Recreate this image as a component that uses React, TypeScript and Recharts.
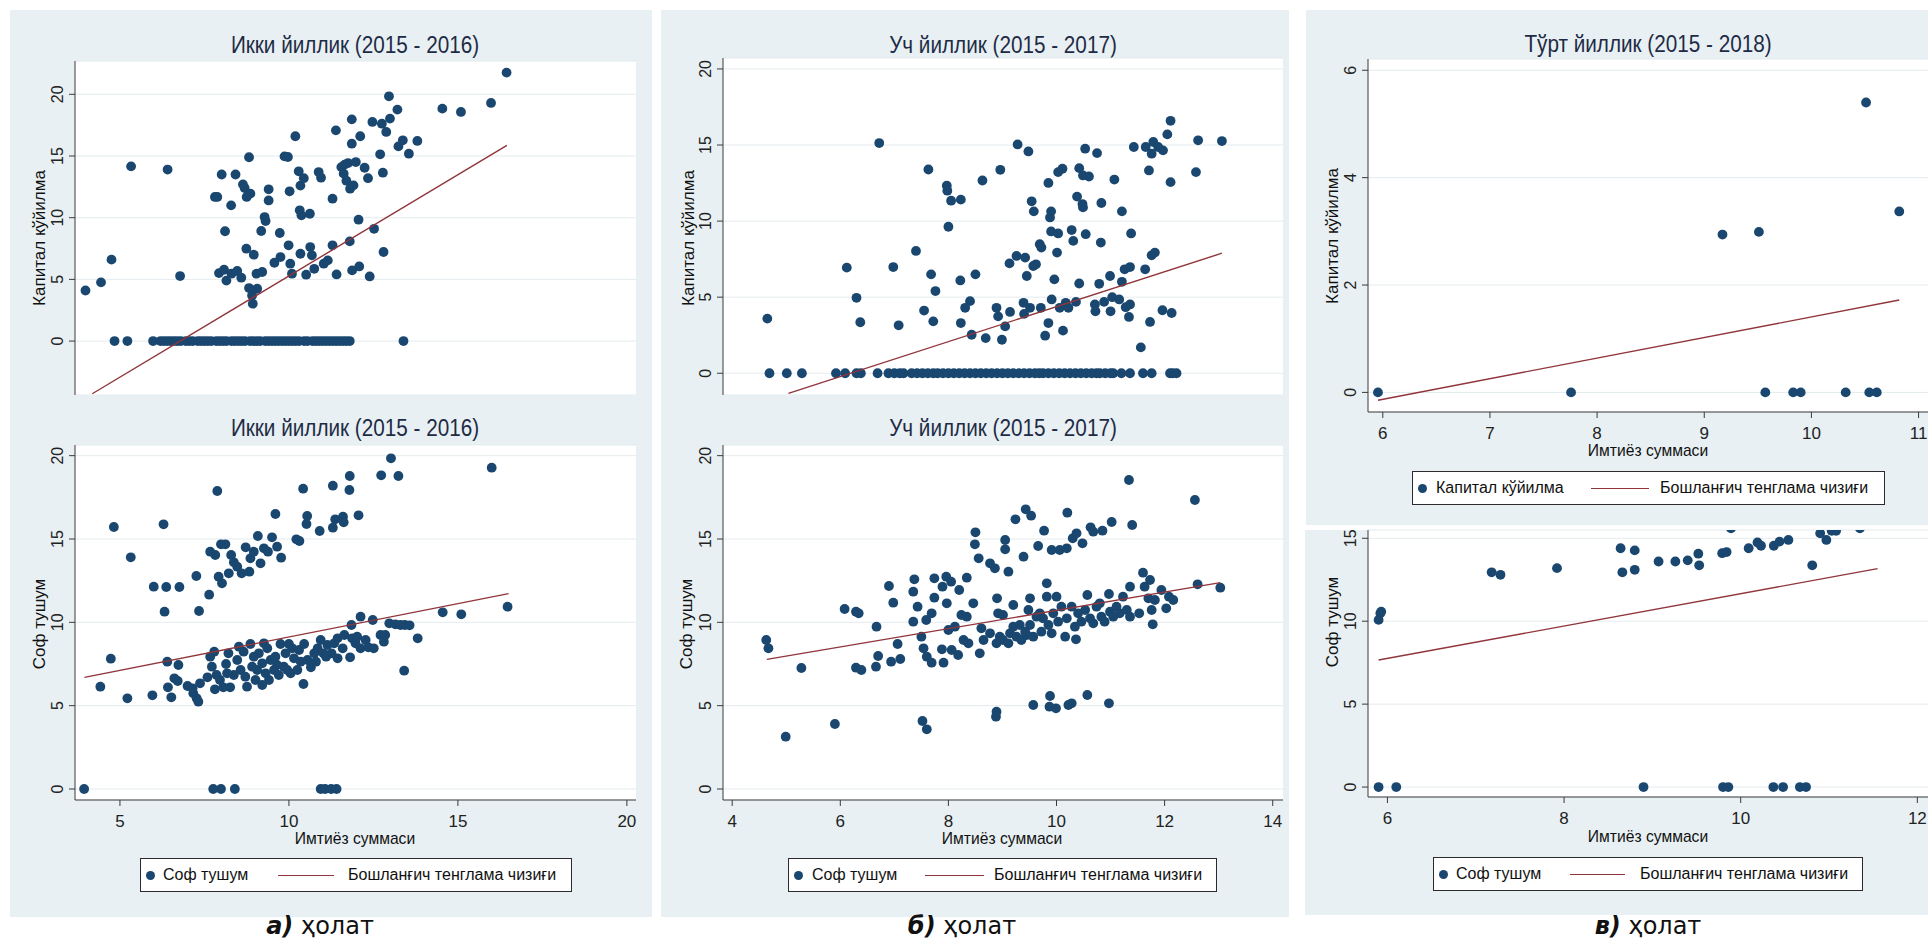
import React from "react";
import { ScatterChart, Scatter, XAxis, YAxis, CartesianGrid } from "recharts";

// colours taken from the Stata s2color look of the reference
const NAVY = "#1a476f";
const MAROON = "#90353b";
const PANEL_BG = "#e8f0f3";
const GRID = "#e4ebee";
const AXIS = "#3a3a3a";
const FONT = "'Liberation Sans', Arial, sans-serif";

type Pt = [number, number];

// ---------- а) two-year panels ----------
const twoYearCapital: Pt[] = [
  [3.98, 4.1], [4.44, 4.76], [4.75, 6.6], [5.33, 14.16], [6.41, 13.9], [6.78, 5.27],
  [7.81, 11.68], [7.88, 11.68], [8.01, 13.5], [8.42, 13.5], [8.29, 11.0], [8.64, 12.7],
  [8.69, 12.4], [8.82, 14.9], [8.86, 11.95], [8.75, 11.68], [8.11, 8.9], [7.93, 5.51],
  [8.08, 5.78], [8.15, 4.9], [8.3, 5.46], [8.47, 5.68], [8.59, 5.14], [8.74, 7.49],
  [8.96, 7.0], [8.82, 4.3], [9.06, 4.24], [8.91, 3.7], [8.93, 3.03], [9.04, 5.46],
  [9.21, 5.6], [9.18, 8.92], [9.28, 10.05], [9.31, 9.73], [9.4, 12.3], [9.4, 11.4],
  [9.57, 6.35], [9.75, 6.81], [9.73, 8.76], [9.87, 14.97], [9.97, 14.92], [10.02, 12.14],
  [9.99, 7.76], [10.04, 6.27], [10.09, 5.46], [10.19, 16.6], [10.29, 13.76], [10.32, 10.6],
  [10.37, 10.19], [10.34, 12.6], [10.44, 13.2], [10.34, 7.08], [10.51, 5.38], [10.62, 10.32],
  [10.63, 7.62], [10.68, 6.95], [10.75, 5.86], [10.88, 13.7], [10.95, 13.24], [11.03, 6.27],
  [11.15, 6.54], [11.29, 11.54], [11.29, 7.76], [11.39, 17.08], [11.41, 5.4], [11.55, 14.1],
  [11.62, 13.57], [11.75, 14.43], [11.7, 13.0], [11.65, 14.3], [11.81, 12.35], [11.86, 16.0],
  [11.86, 17.97], [11.91, 12.62], [11.98, 14.51], [12.06, 9.84], [11.8, 8.08], [11.87, 5.73],
  [12.08, 6.05], [12.11, 16.6], [12.24, 14.05], [12.34, 13.2], [12.39, 5.24], [12.47, 17.76],
  [12.52, 9.1], [12.75, 17.62], [12.8, 7.22], [12.78, 13.65], [12.7, 15.14], [12.88, 16.95],
  [12.96, 19.84], [12.99, 18.03], [13.21, 18.76], [13.24, 15.78], [13.37, 16.27], [13.55, 15.19],
  [13.8, 16.22], [14.54, 18.84], [15.09, 18.57], [15.98, 19.3], [16.44, 21.76],
];
const twoYearCapitalZeroX = [
  4.84, 5.22, 5.98, 6.2, 6.3, 6.4, 6.5, 6.6, 6.7, 6.8, 6.95, 7.05, 7.15, 7.3, 7.4, 7.5, 7.6,
  7.7, 7.85, 7.95, 8.05, 8.15, 8.3, 8.4, 8.5, 8.6, 8.7, 8.85, 8.95, 9.05, 9.15, 9.3, 9.4, 9.5,
  9.6, 9.7, 9.8, 9.9, 10.0, 10.1, 10.2, 10.3, 10.45, 10.55, 10.7, 10.8, 10.9, 11.0, 11.1, 11.2,
  11.3, 11.4, 11.5, 11.6, 11.7, 11.8, 13.39,
];
const twoYearCapitalFit: Pt[] = [[4.18, -4.27], [16.45, 15.86]];

const twoYearRevenue: Pt[] = [
  [4.82, 15.72], [5.32, 13.9], [6.29, 15.88], [6.0, 12.14], [6.37, 12.12], [6.32, 10.64],
  [6.76, 12.12], [7.26, 12.78], [7.34, 10.68], [7.64, 11.66], [7.88, 17.88], [7.67, 14.24],
  [7.82, 14.04], [7.92, 12.74], [8.02, 12.34], [7.99, 14.68], [8.12, 14.68], [8.22, 12.94],
  [8.29, 14.04], [8.37, 13.6], [8.47, 13.34], [8.6, 12.94], [8.72, 14.5], [8.83, 13.04],
  [8.86, 13.84], [8.96, 14.24], [9.08, 15.18], [9.16, 13.54], [9.26, 14.44], [9.38, 14.24],
  [9.5, 15.1], [9.6, 16.5], [9.65, 14.54], [9.77, 13.88], [10.22, 14.98], [10.31, 14.88],
  [10.42, 18.02], [10.54, 16.38], [10.52, 15.9], [10.91, 15.48], [11.3, 18.2], [11.3, 15.68],
  [11.37, 16.18], [11.6, 16.34], [11.62, 16.0], [11.8, 18.78], [11.79, 17.94], [12.06, 16.42],
  [12.73, 18.82], [13.02, 19.84], [13.24, 18.78], [16.0, 19.28],
  [4.42, 6.14], [4.73, 7.82], [5.22, 5.44], [5.96, 5.62], [6.42, 6.1], [6.52, 5.5],
  [6.4, 7.64], [6.73, 7.44], [6.61, 6.64], [6.71, 6.48], [7.0, 6.18], [7.17, 5.74],
  [7.27, 5.44], [7.32, 5.24], [7.15, 6.04], [7.37, 6.34], [7.59, 6.7], [7.67, 7.94],
  [7.79, 8.24], [7.72, 7.34], [7.86, 6.84], [7.81, 5.98], [7.96, 6.54], [8.06, 6.1],
  [8.14, 7.5], [8.21, 8.14], [8.26, 6.1], [8.37, 6.84], [8.47, 7.74], [8.57, 7.14],
  [8.66, 8.24], [8.71, 6.74], [8.76, 6.14], [8.86, 8.7], [8.91, 7.34], [8.96, 7.94],
  [9.01, 6.54], [9.06, 7.14], [9.11, 8.14], [9.21, 7.54], [9.31, 6.94], [9.36, 8.44],
  [9.41, 6.54], [9.46, 7.74], [9.56, 7.14], [9.6, 7.94], [9.7, 6.84], [9.75, 8.7],
  [9.85, 7.34], [9.9, 8.14], [10.0, 8.7], [10.05, 6.94], [10.15, 7.84], [10.25, 7.14],
  [10.3, 8.34], [10.43, 6.3], [10.45, 8.7], [10.55, 7.74], [10.65, 7.3], [10.75, 8.14],
  [10.85, 8.44], [10.94, 8.94], [11.02, 8.14], [11.14, 8.64], [11.26, 8.14], [11.34, 8.74],
  [11.44, 7.84], [11.44, 9.04], [11.59, 8.44], [11.64, 9.24], [11.81, 7.9], [11.85, 9.84],
  [11.87, 9.04], [11.97, 8.74], [12.02, 9.14], [12.12, 10.34], [12.12, 8.44], [12.27, 8.94],
  [12.35, 8.5], [12.48, 10.14], [12.51, 8.44], [12.71, 9.24], [12.81, 8.84], [12.85, 9.24],
  [12.97, 9.94], [13.15, 9.88], [13.3, 9.84], [13.43, 9.84], [13.57, 9.82], [13.81, 9.04],
  [13.41, 7.1], [14.55, 10.6], [15.1, 10.48], [16.47, 10.94],
  [8.52, 8.54], [9.26, 8.74], [9.65, 7.44], [9.95, 7.14], [10.35, 7.64], [10.8, 7.64],
  [11.1, 7.94], [9.21, 6.24], [8.17, 6.94], [10.1, 8.44],
];
const twoYearRevenueZeroX = [3.94, 7.76, 7.99, 8.4, 10.94, 11.07, 11.25, 11.41];
const twoYearRevenueFit: Pt[] = [[3.95, 6.7], [16.5, 11.72]];

// ---------- б) three-year panels ----------
const threeYearCapital: Pt[] = [
  [4.65, 3.59], [6.12, 6.94], [6.3, 4.96], [6.37, 3.35], [6.72, 15.13], [6.98, 6.98],
  [7.08, 3.15], [7.4, 8.04], [7.55, 4.12], [7.63, 13.39], [7.68, 6.5], [7.76, 5.4],
  [7.72, 3.41], [7.97, 12.33], [7.98, 12.0], [8.05, 11.34], [8.23, 11.41], [8.0, 9.63],
  [8.22, 6.1], [8.23, 3.3], [8.31, 4.3], [8.4, 4.74], [8.43, 2.53], [8.5, 6.5],
  [8.63, 12.67], [8.69, 2.31], [8.89, 4.3], [8.92, 3.74], [8.96, 13.37], [8.99, 2.2],
  [9.05, 3.08], [9.13, 7.22], [9.14, 4.03], [9.26, 7.71], [9.42, 7.6], [9.28, 15.04],
  [9.39, 4.63], [9.4, 3.9], [9.45, 6.39], [9.48, 14.58], [9.51, 4.3], [9.54, 11.3],
  [9.57, 7.05], [9.58, 10.64], [9.62, 7.16], [9.69, 8.48], [9.72, 8.26], [9.71, 4.3],
  [9.79, 2.47], [9.85, 12.51], [9.85, 3.3], [9.88, 10.24], [9.9, 10.64], [9.9, 9.32],
  [9.91, 4.85], [9.96, 6.17], [10.01, 7.93], [10.03, 9.19], [10.03, 13.22], [10.11, 13.44],
  [10.06, 4.3], [10.12, 2.8], [10.17, 4.63], [10.22, 4.3], [10.28, 9.41], [10.31, 8.7],
  [10.36, 4.69], [10.38, 11.61], [10.42, 13.48], [10.42, 5.9], [10.48, 11.12], [10.49, 10.9],
  [10.49, 13.0], [10.53, 14.76], [10.54, 9.14], [10.6, 12.93], [10.71, 4.52], [10.72, 4.07],
  [10.75, 14.47], [10.79, 5.88], [10.82, 8.59], [10.83, 11.19], [10.88, 4.69], [10.99, 6.39],
  [11.0, 4.07], [11.03, 5.0], [11.07, 12.73], [11.16, 4.85], [11.21, 10.64], [11.21, 6.01],
  [11.26, 6.83], [11.28, 4.34], [11.34, 3.7], [11.36, 6.98], [11.36, 4.52], [11.38, 9.19],
  [11.43, 14.87], [11.56, 1.7], [11.64, 6.83], [11.65, 14.87], [11.71, 13.33], [11.73, 3.37],
  [11.76, 7.75], [11.82, 7.93], [11.76, 14.43], [11.79, 15.2], [11.88, 14.87], [11.96, 4.14],
  [11.97, 14.65], [12.05, 15.7], [12.11, 16.59], [12.11, 12.56], [12.13, 3.96], [12.58, 13.22],
  [12.62, 15.31], [13.06, 15.26],
];
const threeYearCapitalZeroX = [
  4.69, 5.01, 5.29, 5.92, 6.09, 6.3, 6.38, 6.69, 6.89, 7.0, 7.1, 7.17, 7.32, 7.42, 7.52, 7.62,
  7.72, 7.8, 7.9, 8.0, 8.1, 8.2, 8.3, 8.4, 8.5, 8.6, 8.7, 8.8, 8.9, 9.0, 9.1, 9.2, 9.3, 9.4,
  9.5, 9.6, 9.68, 9.75, 9.85, 9.95, 10.05, 10.15, 10.25, 10.35, 10.45, 10.55, 10.65, 10.74,
  10.8, 10.9, 11.0, 11.05, 11.2, 11.36, 11.6, 11.76, 12.1, 12.15, 12.22,
];
const threeYearCapitalFit: Pt[] = [[5.04, -1.32], [13.06, 7.89]];

const threeYearRevenue: Pt[] = [
  [4.63, 8.94], [4.67, 8.44], [4.99, 3.14], [5.28, 7.26], [5.9, 3.9], [6.08, 10.8],
  [6.29, 10.64], [6.34, 10.54], [6.29, 7.28], [6.39, 7.14], [6.67, 9.74], [6.7, 7.98],
  [6.66, 7.34], [6.9, 12.18], [6.98, 11.18], [6.94, 7.64], [7.06, 8.7], [7.11, 7.8],
  [7.37, 12.58], [7.35, 11.84], [7.35, 10.04], [7.43, 10.94], [7.5, 9.14], [7.54, 8.44],
  [7.52, 4.08], [7.6, 3.58], [7.59, 10.14], [7.6, 7.94], [7.69, 10.54], [7.69, 7.58],
  [7.74, 12.64], [7.74, 11.48], [7.89, 12.14], [7.96, 12.74], [7.97, 11.14], [7.91, 7.58],
  [7.88, 8.38], [8.0, 9.54], [8.05, 12.44], [8.06, 8.34], [8.12, 9.74], [8.2, 11.94],
  [8.18, 8.04], [8.34, 12.68], [8.24, 10.44], [8.34, 10.34], [8.28, 8.94], [8.37, 8.74],
  [8.46, 11.14], [8.5, 15.4], [8.49, 14.68], [8.56, 13.84], [8.58, 8.14], [8.61, 9.64],
  [8.65, 8.94], [8.77, 13.54], [8.86, 13.24], [8.9, 11.44], [8.89, 4.64], [8.88, 4.34],
  [8.95, 9.14], [9.05, 14.94], [9.05, 14.38], [9.11, 13.04], [9.14, 9.34], [9.2, 11.04],
  [9.24, 16.18], [9.39, 13.94], [9.43, 16.78], [9.53, 16.4], [9.57, 5.04], [9.51, 11.44],
  [9.66, 14.58], [9.77, 15.5], [9.82, 12.34], [9.88, 5.58], [9.87, 4.94], [9.99, 4.84],
  [9.91, 14.34], [10.06, 14.34], [10.2, 16.58], [10.19, 14.44], [10.22, 5.04], [10.28, 5.14],
  [10.3, 15.04], [10.37, 15.34], [10.48, 14.74], [10.57, 5.64], [10.63, 15.7], [10.68, 15.44],
  [10.85, 15.5], [10.97, 5.14], [11.02, 16.02], [11.34, 18.54], [11.4, 15.84], [12.56, 17.34],
  [8.92, 10.54], [9.01, 10.44], [9.2, 9.74], [9.26, 9.14], [9.32, 9.84], [9.42, 9.44],
  [9.48, 10.74], [9.51, 9.84], [9.57, 9.14], [9.63, 10.34], [9.72, 9.44], [9.75, 10.24],
  [9.82, 11.54], [9.85, 9.84], [9.91, 9.34], [9.94, 10.54], [10.0, 11.54], [10.03, 10.04],
  [10.09, 10.94], [10.16, 9.14], [10.19, 10.24], [10.28, 10.94], [10.34, 9.74], [10.36, 8.98],
  [10.4, 10.54], [10.46, 10.04], [10.53, 10.74], [10.57, 11.64], [10.62, 10.24], [10.68, 9.94],
  [10.74, 10.94], [10.8, 11.14], [10.83, 10.34], [10.89, 10.04], [10.97, 11.7], [10.99, 10.64],
  [11.05, 10.34], [11.11, 10.94], [11.17, 10.54], [11.23, 11.54], [11.3, 10.74], [11.36, 12.14],
  [11.36, 10.34], [11.53, 10.54], [11.6, 12.98], [11.63, 12.14], [11.7, 11.44], [11.73, 12.54],
  [11.76, 10.74], [11.78, 9.88], [11.82, 11.34], [11.94, 11.94], [12.03, 10.84], [12.08, 11.54],
  [12.16, 11.34], [12.61, 12.28], [13.03, 12.08],
  [8.77, 9.34], [8.89, 8.74], [9.01, 8.94], [9.11, 8.74], [9.35, 8.94], [9.45, 9.24], [9.69, 10.54],
];
const threeYearRevenueFit: Pt[] = [[4.64, 7.78], [13.03, 12.38]];

// ---------- в) four-year panels ----------
const fourYearCapital: Pt[] = [
  [5.955, 0], [7.757, 0], [9.17, 2.94], [9.51, 2.99], [10.51, 5.4], [10.82, 3.37],
  [9.57, 0], [9.83, 0], [9.9, 0], [10.32, 0], [10.54, 0], [10.61, 0],
];
const fourYearCapitalFit: Pt[] = [[5.955, -0.145], [10.82, 1.72]];

const fourYearRevenue: Pt[] = [
  [5.9, 10.08], [5.92, 10.48], [5.93, 10.58], [5.9, 0], [6.1, 0], [7.18, 12.95],
  [7.28, 12.8], [7.92, 13.2], [8.64, 14.4], [8.66, 12.95], [8.8, 14.27], [8.8, 13.1],
  [8.9, 0], [9.07, 13.6], [9.26, 13.6], [9.4, 13.67], [9.52, 14.07], [9.53, 13.37],
  [9.79, 14.1], [9.84, 14.17], [9.8, 0], [9.86, 0], [9.89, 15.6], [10.09, 14.4],
  [10.19, 14.75], [10.23, 14.55], [10.375, 14.55], [10.44, 14.8], [10.54, 14.9], [10.37, 0],
  [10.48, 0], [10.67, 0], [10.74, 0], [10.81, 13.37], [10.9, 15.3], [10.97, 14.9],
  [11.03, 15.45], [11.08, 15.45], [11.35, 15.6],
];
const fourYearRevenueFit: Pt[] = [[5.9, 7.66], [11.55, 13.17]];

const xTicksA = [5, 10, 15, 20];
const xTicksB = [4, 6, 8, 10, 12, 14];
const xTicksCTop = [6, 7, 8, 9, 10, 11];
const xTicksCBottom = [6, 8, 10, 12];
const yTicksFive = [0, 5, 10, 15, 20];
const yTicksCTop = [0, 2, 4, 6];

const withZeros = (pts: Pt[], zeros: number[]): Pt[] => [...pts, ...zeros.map((x) => [x, 0] as Pt)];

const YTick = (props: any) => {
  const { x, y, payload } = props;
  return (
    <text x={x} y={y} transform={`rotate(-90 ${x} ${y})`} textAnchor="middle" fontSize={16} fontFamily={FONT} fill="#222">
      {payload.value}
    </text>
  );
};

const XTick = (props: any) => {
  const { x, y, payload } = props;
  return (
    <text x={x} y={y + 19} textAnchor="middle" fontSize={17} fontFamily={FONT} fill="#222">
      {payload.value}
    </text>
  );
};

const Dot = (props: any) => <circle cx={props.cx} cy={props.cy} r={4.9} fill={NAVY} />;
const NoDot = () => <g />;

interface PanelProps {
  x0: number; y0: number; x1: number; y1: number;
  xDomain: [number, number]; yDomain: [number, number];
  xTicks: number[]; yTicks: number[];
  showX: boolean;
  points: Pt[]; fit: Pt[];
}

function Panel(p: PanelProps) {
  const YW = 60, MT = 6, MR = 6;
  const XH = p.showX ? 40 : 0;
  const w = p.x1 - p.x0 + YW + MR;
  const h = p.y1 - p.y0 + MT + XH;
  const data = p.points.map(([x, y]) => ({ x, y }));
  const fit = p.fit.map(([x, y]) => ({ x, y }));
  return (
    <div style={{ position: "absolute", left: p.x0 - YW, top: p.y0 - MT, width: w, height: h }}>
      <ScatterChart width={w} height={h} margin={{ top: MT, right: MR, bottom: 0, left: 0 }}>
        <CartesianGrid vertical={false} stroke={GRID} fill="#ffffff" fillOpacity={1} />
        <XAxis
          type="number" dataKey="x" domain={p.xDomain} ticks={p.xTicks} interval={0}
          allowDataOverflow hide={!p.showX} height={XH}
          axisLine={{ stroke: AXIS }} tickLine={{ stroke: AXIS }} tickSize={6} tick={<XTick />}
        />
        <YAxis
          type="number" dataKey="y" domain={p.yDomain} ticks={p.yTicks} interval={0}
          allowDataOverflow width={YW}
          axisLine={{ stroke: AXIS }} tickLine={{ stroke: AXIS }} tickSize={6} tickMargin={6} tick={<YTick />}
        />
        <Scatter data={data} shape={<Dot />} isAnimationActive={false} />
        <Scatter data={fit} shape={<NoDot />} line={{ stroke: MAROON, strokeWidth: 1.4 }} isAnimationActive={false} />
      </ScatterChart>
    </div>
  );
}

const textBase: React.CSSProperties = { position: "absolute", fontFamily: FONT, whiteSpace: "nowrap", color: "#111" };

const Title = ({ cx, cy, text }: { cx: number; cy: number; text: string }) => (
  <div style={{ ...textBase, left: cx, top: cy, transform: "translate(-50%, -50%) scaleX(0.9)", fontSize: 23, color: "#1e2b45" }}>{text}</div>
);
const XTitle = ({ cx, cy, text }: { cx: number; cy: number; text: string }) => (
  <div style={{ ...textBase, left: cx, top: cy, transform: "translate(-50%, -50%) scaleX(0.92)", fontSize: 17 }}>{text}</div>
);
const YTitle = ({ cx, cy, text }: { cx: number; cy: number; text: string }) => (
  <div style={{ ...textBase, left: cx, top: cy, transform: "translate(-50%, -50%) rotate(-90deg)", fontSize: 17 }}>{text}</div>
);

function LegendBox(props: { left: number; top: number; width: number; label: string; textX: number; lineX0: number; lineX1: number; text2X: number }) {
  const { left, top, width, label, textX, lineX0, lineX1, text2X } = props;
  const H = 34;
  const t: React.CSSProperties = { ...textBase, top: 0, lineHeight: `${H - 2}px`, fontSize: 16 };
  return (
    <div style={{ position: "absolute", left, top, width, height: H, boxSizing: "border-box", border: "1px solid #2b2b2b", background: "#fff" }}>
      <div style={{ position: "absolute", left: 5, top: H / 2 - 5.5, width: 9, height: 9, borderRadius: "50%", background: NAVY }} />
      <div style={{ ...t, left: textX }}>{label}</div>
      <div style={{ position: "absolute", left: lineX0, top: H / 2 - 1.5, width: lineX1 - lineX0, height: 1.5, background: MAROON }} />
      <div style={{ ...t, left: text2X }}>Бошланғич тенглама чизиғи</div>
    </div>
  );
}

const Caption = ({ cx, letter }: { cx: number; letter: string }) => (
  <div style={{ position: "absolute", left: cx, top: 926, transform: "translate(-50%, -50%)", fontFamily: "'DejaVu Sans', Verdana, sans-serif", fontSize: 24, whiteSpace: "nowrap", color: "#111" }}>
    <b><i>{letter})</i></b> ҳолат
  </div>
);

const TITLE2 = "Икки йиллик (2015 - 2016)";
const TITLE3 = "Уч йиллик (2015 - 2017)";
const TITLE4 = "Тўрт йиллик (2015 - 2018)";
const X_LABEL = "Имтиёз суммаси";
const CAPITAL = "Капитал кўйилма";
const REVENUE = "Соф тушум";

export default function App() {
  return (
    <div style={{ position: "absolute", left: 0, top: 0, width: 1928, height: 949, overflow: "hidden", background: "#fff" }}>
      {/* column а */}
      <div style={{ position: "absolute", left: 10, top: 10, width: 642, height: 907, background: PANEL_BG }} />
      <Title cx={355} cy={45} text={TITLE2} />
      <YTitle cx={40} cy={238} text={CAPITAL} />
      <Panel x0={75} y0={61} x1={636} y1={395} xDomain={[3.67, 20.27]} yDomain={[-4.37, 22.7]}
        xTicks={xTicksA} yTicks={yTicksFive} showX={false}
        points={withZeros(twoYearCapital, twoYearCapitalZeroX)} fit={twoYearCapitalFit} />
      <div style={{ position: "absolute", left: 10, top: 395, width: 642, height: 50, background: PANEL_BG }} />
      <Title cx={355} cy={428} text={TITLE2} />
      <YTitle cx={40} cy={624} text={REVENUE} />
      <Panel x0={75} y0={445} x1={636} y1={800} xDomain={[3.67, 20.27]} yDomain={[-0.66, 20.64]}
        xTicks={xTicksA} yTicks={yTicksFive} showX={true}
        points={withZeros(twoYearRevenue, twoYearRevenueZeroX)} fit={twoYearRevenueFit} />
      <XTitle cx={355} cy={839} text={X_LABEL} />
      <LegendBox left={140} top={858} width={432} label={REVENUE} textX={22} lineX0={137} lineX1={193} text2X={207} />
      <Caption cx={320} letter="а" />

      {/* column б */}
      <div style={{ position: "absolute", left: 661, top: 10, width: 628, height: 907, background: PANEL_BG }} />
      <Title cx={1003} cy={45} text={TITLE3} />
      <YTitle cx={689} cy={238} text={CAPITAL} />
      <Panel x0={723} y0={58} x1={1283} y1={395} xDomain={[3.83, 14.19]} yDomain={[-1.43, 20.72]}
        xTicks={xTicksB} yTicks={yTicksFive} showX={false}
        points={withZeros(threeYearCapital, threeYearCapitalZeroX)} fit={threeYearCapitalFit} />
      <div style={{ position: "absolute", left: 661, top: 395, width: 628, height: 50, background: PANEL_BG }} />
      <Title cx={1003} cy={428} text={TITLE3} />
      <YTitle cx={687} cy={624} text={REVENUE} />
      <Panel x0={723} y0={445} x1={1283} y1={800} xDomain={[3.83, 14.19]} yDomain={[-0.66, 20.64]}
        xTicks={xTicksB} yTicks={yTicksFive} showX={true}
        points={threeYearRevenue} fit={threeYearRevenueFit} />
      <XTitle cx={1002} cy={839} text={X_LABEL} />
      <LegendBox left={788} top={858} width={429} label={REVENUE} textX={23} lineX0={136} lineX1={195} text2X={205} />
      <Caption cx={962} letter="б" />

      {/* column в */}
      <div style={{ position: "absolute", left: 1306, top: 10, width: 622, height: 515, background: PANEL_BG }} />
      <Title cx={1648} cy={44} text={TITLE4} />
      <YTitle cx={1333} cy={236} text={CAPITAL} />
      <Panel x0={1368} y0={59} x1={1940} y1={412} xDomain={[5.862, 11.2]} yDomain={[-0.365, 6.21]}
        xTicks={xTicksCTop} yTicks={yTicksCTop} showX={true}
        points={fourYearCapital} fit={fourYearCapitalFit} />
      <XTitle cx={1648} cy={451} text={X_LABEL} />
      <LegendBox left={1412} top={471} width={473} label={CAPITAL} textX={23} lineX0={178} lineX1={236} text2X={247} />

      <div style={{ position: "absolute", left: 1305, top: 530, width: 623, height: 385, background: PANEL_BG }} />
      <YTitle cx={1333} cy={622} text={REVENUE} />
      <Panel x0={1368} y0={530} x1={1935} y1={797} xDomain={[5.78, 12.2]} yDomain={[-0.6, 15.5]}
        xTicks={xTicksCBottom} yTicks={yTicksFive} showX={true}
        points={fourYearRevenue} fit={fourYearRevenueFit} />
      <XTitle cx={1648} cy={837} text={X_LABEL} />
      <LegendBox left={1433} top={857} width={430} label={REVENUE} textX={22} lineX0={136} lineX1={191} text2X={206} />
      <Caption cx={1648} letter="в" />
    </div>
  );
}
